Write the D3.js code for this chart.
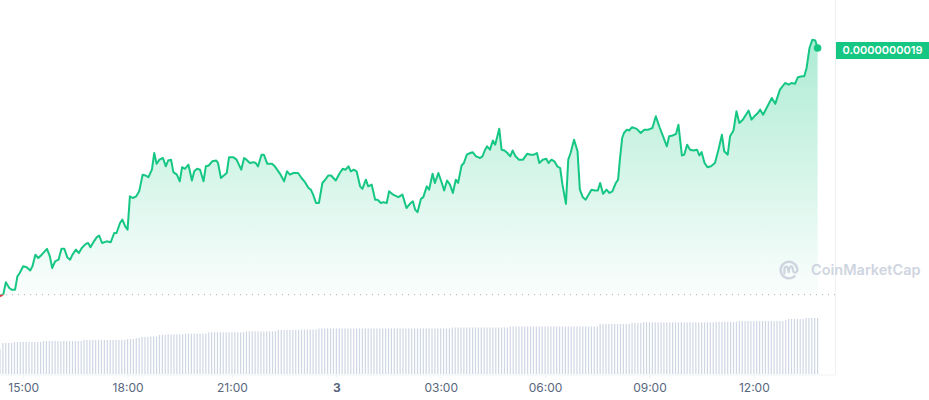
<!DOCTYPE html>
<html>
<head>
<meta charset="utf-8">
<script src="https://cdn.jsdelivr.net/npm/d3@7"></script>
<style>
  html, body { margin: 0; padding: 0; background: #ffffff; }
  svg { display: block; }
</style>
</head>
<body>
<svg id="chart" width="929" height="400"></svg>
<script>
// ---------------- DATA ----------------
// Price values are stored as price x 1e12 (USD); time as minutes after the window start (14:20)
const startTime = "2024-01-02T14:20:00";
const endTime = "2024-01-03T14:20:00";
const openPrice = 1604; // reference (24h ago) price, x 1e12

const priceMinutes = [
  0,6,10,16,20,26,30,34,40,46,52,56,61,66,72,81,86,90,95,101,
  106,111,116,121,125,131,136,141,148,152,156,162,167,171,176,184,191,197,201,207,
  211,216,220,224,229,235,240,246,251,256,262,266,270,275,281,286,290,295,299,305,
  310,314,319,325,331,335,340,345,351,355,360,366,373,376,381,386,391,395,
  402,408,416,421,425,431,437,441,445,451,455,461,469,474,483,490,495,500,506,514,
  520,526,532,536,540,545,550,556,562,566,571,579,586,591,596,601,605,610,615,621,
  625,631,635,641,647,651,657,661,667,671,678,687,694,701,707,712,716,720,726,730,
  736,740,746,750,756,762,
  766,771,776,781,786,790,796,800,805,811,815,821,828,832,836,840,845,850,854,861,
  865,870,875,880,884,889,895,902,909,915,921,926,930,936,942,946,951,956,961,966,
  970,976,980,984,990,996,1000,1005,1010,1015,1020,1026,1031,1035,1040,1046,1051,1056,
  1062,1066,1069,1073,1076,1081,1085,1090,1098,1105,1111,1118,1125,1131,1138,1144,1150,1154,1160,1166,
  1170,1176,1180,1185,1190,1196,1202,1206,1210,1215,1220,1226,1233,1239,1245,1249,1255,1259,1265,1270,
  1275,1281,1291,1296,1301,1307,1311,1316,1322,1331,1337,1345,1354,1360,1365,1371,1376,1383,1387,1391,
  1396,1401,1406,1410
];
const priceValues = [
  1602,1605,1619,1612,1610,1610,1626,1630,1638,1637,1633,1638,1652,1648,1652,1659,1650,1636,1644,1646,
  1659,1659,1649,1646,1652,1658,1654,1660,1665,1666,1661,1668,1673,1675,1666,1668,1667,1678,1678,1690,
  1694,1686,1682,1722,1720,1722,1728,1748,1747,1745,1754,1774,1761,1766,1768,1758,1765,1766,1751,1748,
  1740,1757,1755,1760,1741,1752,1755,1754,1740,1758,1759,1764,1765,1762,1744,1747,1750,1769,
  1769,1766,1754,1768,1766,1762,1763,1762,1758,1772,1772,1761,1761,1758,1749,1740,1752,1748,1750,1750,
  1744,1739,1732,1730,1724,1714,1714,1738,1743,1747,1747,1741,1750,1755,1754,1758,1752,1754,1752,1734,
  1731,1742,1734,1736,1718,1718,1714,1715,1714,1728,1724,1721,1724,1708,1713,1716,1706,1703,1719,1721,
  1734,1730,1749,1738,1750,1738,
  1729,1741,1736,1726,1742,1738,1759,1762,1772,1774,1775,1770,1768,1770,1777,1782,1778,1789,1784,1803,
  1778,1777,1774,1770,1777,1770,1766,1766,1773,1772,1772,1774,1762,1766,1767,1762,1766,1764,1758,1756,
  1736,1713,1766,1774,1790,1776,1730,1721,1718,1724,1730,1729,1729,1738,1725,1730,1726,1728,
  1738,1742,1766,1792,1798,1802,1801,1805,1803,1798,1802,1802,1804,1818,1804,1793,1782,1794,1795,1797,
  1808,1771,1772,1784,1778,1777,1778,1771,1775,1762,1757,1758,1762,1778,1796,1776,1772,1794,1801,1824,
  1810,1814,1825,1814,1818,1822,1826,1820,1828,1840,1833,1850,1858,1856,1858,1857,1865,1866,1866,1876,
  1900,1910,1909,1900
];

// 24h volume, one bar every 5 minutes from 14:20 (arbitrary units)
const volumeValues = [
  250,310,310,310,310,320,320,320,320,320,320,320,
  320,320,320,330,330,330,330,330,330,330,330,330,
  330,330,330,330,330,340,340,340,340,340,340,340,
  340,340,340,340,340,340,340,340,350,350,350,360,
  360,370,370,370,375,375,375,390,390,390,397,397,
  397,397,397,397,403,403,403,403,403,403,403,403,
  417,417,417,417,417,417,417,417,417,417,417,417,
  417,427,427,427,427,427,427,427,427,427,427,427,
  440,440,440,440,440,440,440,440,445,445,445,445,
  445,445,455,455,455,455,455,455,455,455,455,455,
  455,455,455,455,455,455,455,455,455,455,455,455,
  455,455,455,455,455,455,455,455,455,455,455,455,
  455,455,455,455,455,455,455,455,455,455,455,455,
  465,465,465,465,465,465,465,465,465,465,465,465,
  465,465,465,465,465,465,465,465,475,475,475,475,
  475,475,475,475,475,475,475,475,475,475,475,475,
  475,475,475,475,475,475,475,475,475,475,475,475,
  475,475,475,500,500,500,500,500,500,500,500,500,
  500,500,510,510,510,510,517,517,517,517,517,517,
  517,517,517,517,517,517,517,517,517,517,517,517,
  517,517,517,517,517,517,517,522,522,522,522,522,
  522,522,522,530,530,530,530,530,530,530,530,530,
  530,530,530,530,530,530,530,540,550,550,550,550,
  550,550,560,560,560,560,560
];
const volumeStepMinutes = 5;

const tickHours = [15, 18, 21, 24, 27, 30, 33, 36]; // hours after 00:00 of day 2
const tickLabels = ["15:00", "18:00", "21:00", "3", "03:00", "06:00", "09:00", "12:00"];
const watermarkText = "CoinMarketCap";

// ---------------- CHART ----------------
const svg = d3.select("#chart");
const plotRight = 835, axisY = 374;
const green = "#16c784", red = "#ea3943";

const t0 = new Date(startTime), t1 = new Date(endTime);
const minToDate = m => new Date(t0.getTime() + m * 60000);
const dayStart = new Date(t0); dayStart.setHours(0, 0, 0, 0);

const x = d3.scaleTime().domain([t0, t1]).range([0, plotRight]);
const y = d3.scaleLinear().domain([1600, 1920]).range([298, 31.33]);
const v = d3.scaleLinear().domain([0, 600]).range([axisY, axisY - 60]);

const price = priceMinutes.map((m, i) => ({ t: minToDate(m), p: priceValues[i] }));
const vols = volumeValues.map((val, i) => ({ t: minToDate(i * volumeStepMinutes), v: val }));

const defs = svg.append("defs");
const grad = defs.append("linearGradient").attr("id", "areaGrad")
  .attr("gradientUnits", "userSpaceOnUse").attr("x1", 0).attr("x2", 0)
  .attr("y1", y(1920)).attr("y2", y(openPrice));
grad.append("stop").attr("offset", 0).attr("stop-color", green).attr("stop-opacity", 0.36);
grad.append("stop").attr("offset", 1).attr("stop-color", green).attr("stop-opacity", 0.02);

const yb = y(openPrice);
defs.append("clipPath").attr("id", "clipAbove").append("rect")
  .attr("x", -5).attr("y", 0).attr("width", plotRight + 10).attr("height", yb);
defs.append("clipPath").attr("id", "clipBelow").append("rect")
  .attr("x", -5).attr("y", yb).attr("width", plotRight + 10).attr("height", 400 - yb);

// frame lines
svg.append("line").attr("x1", plotRight + 0.5).attr("x2", plotRight + 0.5)
  .attr("y1", 0).attr("y2", axisY).attr("stroke", "#eff2f5").attr("stroke-width", 1);

// volume bars
svg.append("g").selectAll("rect").data(vols).join("rect")
  .attr("x", d => x(d.t) - 0.6)
  .attr("y", d => v(d.v))
  .attr("width", 1.2)
  .attr("height", d => axisY - v(d.v))
  .attr("fill", "#cfd6e4");

// area
const area = d3.area().x(d => x(d.t)).y0(yb).y1(d => y(d.p));
svg.append("path").datum(price).attr("d", area)
  .attr("fill", "url(#areaGrad)").attr("clip-path", "url(#clipAbove)");
svg.append("path").datum(price).attr("d", area)
  .attr("fill", red).attr("fill-opacity", 0.08).attr("clip-path", "url(#clipBelow)");

// baseline dotted
svg.append("line").attr("x1", 0).attr("x2", plotRight)
  .attr("y1", yb).attr("y2", yb)
  .attr("stroke", "#a6b0c3").attr("stroke-width", 1).attr("stroke-dasharray", "1,5");

// watermark
const wm = svg.append("g").attr("transform", "translate(789,270)").attr("opacity", 1);
wm.append("path")
  .attr("d", "M 5.6 6.2 A 8.3 8.3 0 1 1 8.2 1.2")
  .attr("fill", "none").attr("stroke", "#cfd5df").attr("stroke-width", 2.4).attr("stroke-linecap", "round");
wm.append("path")
  .attr("d", "M -4.6 3.6 L -4.6 -0.8 Q -4.2 -3.6 -2.4 -3.4 Q -1 -3.2 -0.6 0.6 L -0.3 2.2 Q 0.3 -3.8 2.4 -3.6 Q 3.8 -3.2 4 0.4 Q 4.4 3.2 7 2.4")
  .attr("fill", "none").attr("stroke", "#cfd5df").attr("stroke-width", 2.2).attr("stroke-linecap", "round").attr("stroke-linejoin", "round");
svg.append("text").attr("x", 811).attr("y", 275)
  .attr("font-family", "Inter, 'Noto Sans', sans-serif").attr("font-size", 14.5).attr("font-weight", 600)
  .attr("fill", "#cfd5df").text(watermarkText);

// price line
const line = d3.line().x(d => x(d.t)).y(d => y(d.p));
svg.append("path").datum(price).attr("d", line)
  .attr("fill", "none").attr("stroke", green).attr("stroke-width", 2)
  .attr("stroke-linejoin", "round").attr("clip-path", "url(#clipAbove)");
svg.append("path").datum(price).attr("d", line)
  .attr("fill", "none").attr("stroke", red).attr("stroke-width", 2)
  .attr("stroke-linejoin", "round").attr("clip-path", "url(#clipBelow)");

// last point
const last = price[price.length - 1];
svg.append("circle").attr("cx", x(last.t)).attr("cy", y(last.p)).attr("r", 3.8).attr("fill", green);

// price label
const ly = y(last.p);
svg.append("rect").attr("x", plotRight + 1).attr("y", ly - 6).attr("width", 929 - plotRight - 1).attr("height", 17)
  .attr("fill", green);
svg.append("text").attr("x", plotRight + 1 + (929 - plotRight - 1) / 2).attr("y", ly + 6.5)
  .attr("text-anchor", "middle")
  .attr("font-family", "Inter, 'Noto Sans', sans-serif").attr("font-size", 11).attr("font-weight", 600)
  .attr("fill", "#ffffff").text((last.p * 1e-12).toFixed(10));

// x axis
const tickDates = tickHours.map(h => new Date(dayStart.getTime() + h * 3600000));
const axis = d3.axisBottom(x).tickValues(tickDates).tickFormat((d, i) => tickLabels[i])
  .tickSize(4).tickSizeOuter(0);
const gx = svg.append("g").attr("transform", `translate(0,${axisY + 0.5})`).call(axis);
gx.select(".domain").attr("stroke", "#eff2f5");
gx.selectAll(".tick line").attr("stroke", "#eff2f5");
gx.selectAll(".tick text")
  .attr("y", 17).attr("dy", null)
  .attr("font-family", "Inter, 'Noto Sans', sans-serif").attr("font-size", 12)
  .attr("fill", "#58667e")
  .attr("font-weight", (d, i) => tickLabels[i].indexOf(":") < 0 ? 700 : 400);
</script>
</body>
</html>
